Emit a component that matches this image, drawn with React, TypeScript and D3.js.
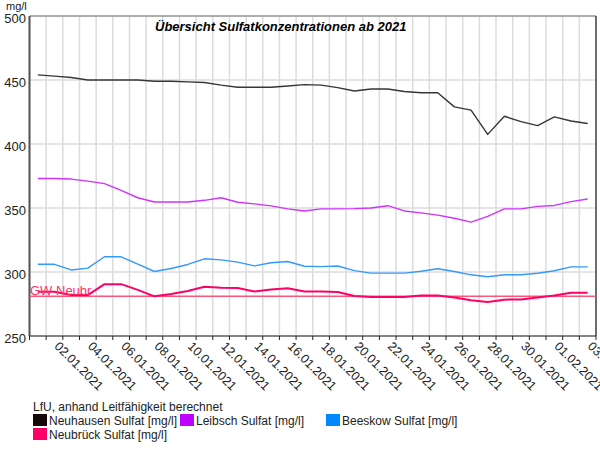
import React from "react";
import * as d3 from "d3";

const dates: string[] = [
  "2020-12-31T12:00", "2021-01-01T12:00", "2021-01-02T12:00", "2021-01-03T12:00", "2021-01-04T12:00",
  "2021-01-05T12:00", "2021-01-06T12:00", "2021-01-07T12:00", "2021-01-08T12:00", "2021-01-09T12:00",
  "2021-01-10T12:00", "2021-01-11T12:00", "2021-01-12T12:00", "2021-01-13T12:00", "2021-01-14T12:00",
  "2021-01-15T12:00", "2021-01-16T12:00", "2021-01-17T12:00", "2021-01-18T12:00", "2021-01-19T12:00",
  "2021-01-20T12:00", "2021-01-21T12:00", "2021-01-22T12:00", "2021-01-23T12:00", "2021-01-24T12:00",
  "2021-01-25T12:00", "2021-01-26T12:00", "2021-01-27T12:00", "2021-01-28T12:00", "2021-01-29T12:00",
  "2021-01-30T12:00", "2021-01-31T12:00", "2021-02-01T12:00", "2021-02-02T12:00",
];

const neuhausen = [454, 453, 452, 450, 450, 450, 450, 449, 449, 448.5, 448, 446, 444.3, 444.3, 444.3, 445.3, 446.4, 446, 444, 441.4, 443, 443, 441, 440, 440, 429, 426.5, 407.5, 421.7, 417.5, 414.4, 421.2, 418, 416];
const leibsch = [373, 373, 372.6, 371, 369, 363.8, 358, 354.7, 354.7, 354.7, 356, 358, 354.5, 353.2, 351.7, 349.3, 347.7, 349.3, 349.3, 349.5, 350, 351.8, 347.7, 346.2, 344.4, 342, 339, 343.5, 349.3, 349.3, 351.3, 352, 355, 357];
const beeskow = [306, 306, 301.6, 303, 311.9, 311.9, 306.2, 300.4, 302.7, 305.9, 310.3, 309.5, 307.7, 304.8, 307.2, 308.2, 304.5, 304.2, 304.7, 301.1, 299.1, 299.1, 299.1, 300.6, 302.5, 300.4, 297.8, 296.3, 297.8, 297.8, 299, 301, 304, 304];
const neubrueck = [284.5, 284.5, 282, 282, 290.5, 290.5, 286, 281, 282.8, 285.2, 288.5, 287.7, 287.5, 284.8, 286.4, 287.3, 284.8, 284.8, 284.3, 281.2, 280.4, 280.4, 280.4, 281.7, 281.7, 280, 278, 276.5, 278.4, 278.6, 280, 281.7, 283.8, 283.8];

const threshold = 281;
const thresholdLabel = "GW Neubr";
const yTicks = [250, 300, 350, 400, 450, 500];
const xDomain = ["2020-12-31T00:00", "2021-02-03T00:00"];

const title = "Übersicht Sulfatkonzentrationen ab 2021";
const yUnit = "mg/l";
const legendTitle = "LfU, anhand Leitfähigkeit berechnet";

const seriesNames = ["Neuhausen Sulfat [mg/l]", "Leibsch Sulfat [mg/l]", "Beeskow Sulfat [mg/l]", "Neubrück Sulfat [mg/l]"];
const seriesValues = [neuhausen, leibsch, beeskow, neubrueck];
const lineColors = ["#3a3434", "#cc33ff", "#3399ff", "#ff0066"];
const swatchColors = ["#140808", "#bb00ff", "#0088ff", "#ff0066"];
const lineWidths = [1.4, 1.4, 1.4, 2];

export default function App() {
  const W = 600, H = 450;
  const left = 29.5, right = 596, top = 16, bottom = 336;
  const parse = (s: string) => new Date(s);
  const x = d3.scaleTime().domain(xDomain.map(parse)).range([left, right]);
  const y = d3.scaleLinear().domain([250, 500]).range([bottom, top]);
  const days = d3.timeDay.range(parse(xDomain[0]), d3.timeDay.offset(parse(xDomain[1]), 1));
  const fmt = d3.timeFormat("%d.%m.%Y");
  const labelDays = days.filter((d, i) => i % 2 === 0 && i > 0);
  const font = "Arial, 'Liberation Sans', sans-serif";

  const line = (vals: number[]) =>
    d3.line<number>()
      .x((_, i) => x(parse(dates[i])))
      .y((v) => y(v))(vals) as string;

  const legendPos = [
    { x: 33, y: 414 },
    { x: 180, y: 414 },
    { x: 326, y: 414 },
    { x: 33, y: 428 },
  ];

  return (
    <svg width={W} height={H} style={{ position: "absolute", left: 0, top: 0, background: "#fff" }} fontFamily={font}>
      <rect x={0} y={0} width={W} height={H} fill="#fff" />
      {/* grid */}
      {days.map((d, i) => (
        <line key={"vg" + i} x1={x(d)} x2={x(d)} y1={top} y2={bottom} stroke="#dcdcdc" strokeWidth={1.5} />
      ))}
      {yTicks.map((t) => (
        <line key={"hg" + t} x1={left} x2={right} y1={y(t)} y2={y(t)} stroke="#dcdcdc" strokeWidth={1.5} />
      ))}
      {/* frame */}
      <line x1={left} x2={right} y1={top} y2={top} stroke="#777" strokeWidth={1} />
      <line x1={right} x2={right} y1={top} y2={bottom} stroke="#444" strokeWidth={1.5} />
      <line x1={left} x2={left} y1={top} y2={bottom} stroke="#555" strokeWidth={2} />
      <line x1={left} x2={right} y1={bottom} y2={bottom} stroke="#222" strokeWidth={1} />
      {days.map((d, i) => (
        <line key={"tk" + i} x1={x(d)} x2={x(d)} y1={bottom} y2={bottom + 4} stroke="#222" strokeWidth={1} />
      ))}
      {/* y labels */}
      {yTicks.map((t) => (
        <text key={"yl" + t} x={26} y={y(t) + 6.5} textAnchor="end" fontSize={13} fill="#222">{t}</text>
      ))}
      <text x={6} y={9.5} fontSize={11} fill="#222">{yUnit}</text>
      {/* x labels */}
      {labelDays.map((d, i) => (
        <text key={"xl" + i} transform={`translate(${x(d) - 9},${bottom + 11}) rotate(45)`} fontSize={12.5} fill="#222">{fmt(d)}</text>
      ))}
      {/* threshold */}
      <line x1={left} x2={right} y1={y(threshold)} y2={y(threshold)} stroke="#ff5577" strokeWidth={1.5} />
      {/* series */}
      {seriesValues.map((vals, k) => (
        <path key={"s" + k} d={line(vals)} fill="none" stroke={lineColors[k]} strokeWidth={lineWidths[k]} strokeLinejoin="round" />
      ))}
      <text x={30} y={y(threshold) - 1.5} fontSize={13} fill="#ff3366">{thresholdLabel}</text>
      {/* title */}
      <text x={155} y={31} fontSize={13} fontWeight="bold" fontStyle="italic" fill="#000">{title}</text>
      {/* legend */}
      <text x={33} y={411} fontSize={12} fill="#222">{legendTitle}</text>
      {seriesNames.map((n, k) => (
        <g key={"lg" + k}>
          <rect x={legendPos[k].x} y={legendPos[k].y} width={14} height={12} fill={swatchColors[k]} />
          <text x={legendPos[k].x + 16} y={legendPos[k].y + 11} fontSize={12} fill="#222">{n}</text>
        </g>
      ))}
    </svg>
  );
}
